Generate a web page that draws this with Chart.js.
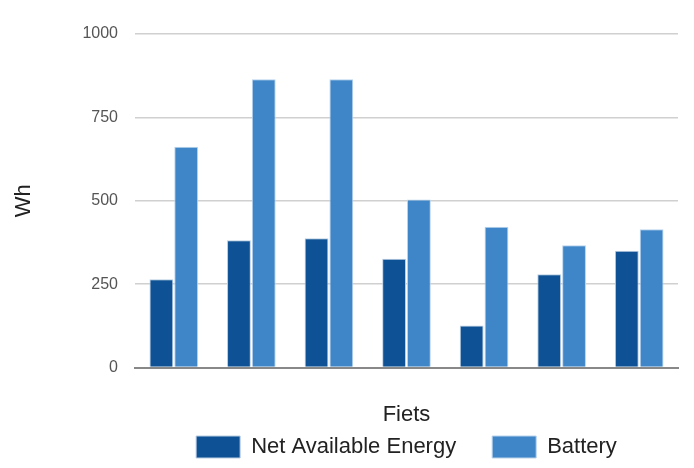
<!DOCTYPE html>
<html>
<head>
<meta charset="utf-8">
<script src="https://cdn.jsdelivr.net/npm/chart.js@4/dist/chart.umd.min.js"></script>
<style>
  html, body { margin: 0; padding: 0; background: #fff; }
  #wrap { width: 694px; height: 468px; }
</style>
</head>
<body>
<div id="wrap"><canvas id="grafico"></canvas></div>
<script>
var fietsen = ['1', '2', '3', '4', '5', '6', '7'];
var netAvailable = [265, 382, 388, 326, 126, 280, 350];
var battery = [662, 864, 864, 504, 422, 367, 415];
var yTicks = [0, 250, 500, 750, 1000];

Chart.defaults.font.family = '"Liberation Sans", Arial, sans-serif';
Chart.defaults.color = '#444';

// legend padding 36 gives the gap between items, but also a lot of room
// above them: shrink the box and draw it a bit higher
var legendGap = {
    id: 'legendGap',
    beforeInit: function (chart) {
        var legend = chart.legend;
        var fit = legend.fit;
        var draw = legend.draw;
        legend.fit = function () {
            fit.call(this);
            this.height -= 30;
        };
        legend.draw = function () {
            this.top -= 30;
            draw.call(this);
            this.top += 30;
        };
    }
};

var ctx = document.getElementById('grafico').getContext('2d');
new Chart(ctx, {
    type: 'bar',
    data: {
        labels: fietsen,
        datasets: [{
            label: 'Net Available Energy',
            data: netAvailable,
            backgroundColor: '#0e5295',
            borderColor: '#b9cde3',
            borderWidth: 1
        }, {
            label: 'Battery',
            data: battery,
            backgroundColor: '#3f86c8',
            borderColor: '#b9d3ec',
            borderWidth: 1
        }]
    },
    plugins: [legendGap],
    options: {
        responsive: true,
        maintainAspectRatio: false,
        animation: false,
        layout: { padding: { top: 34, right: 16, left: 11, bottom: 0 } },
        datasets: {
            bar: { categoryPercentage: 0.64, barPercentage: 0.96 }
        },
        scales: {
            x: {
                ticks: { display: false },
                grid: { display: false, drawTicks: false },
                border: { color: '#888', width: 2 },
                title: {
                    display: true,
                    text: 'Fiets',
                    color: '#222',
                    font: { size: 22 },
                    padding: { top: 34, bottom: 2 }
                }
            },
            y: {
                min: 0,
                max: 1000,
                afterBuildTicks: function (axis) {
                    axis.ticks = yTicks.map(function (v) { return { value: v }; });
                },
                ticks: {
                    font: { size: 16 },
                    color: '#555',
                    padding: 17,
                    callback: function (v) { return String(v); }
                },
                grid: { color: '#d0d0d0', lineWidth: 1.5, drawTicks: false },
                border: { display: false },
                title: {
                    display: true,
                    text: 'Wh',
                    color: '#222',
                    font: { size: 22 },
                    padding: { top: 0, bottom: 28 }
                }
            }
        },
        plugins: {
            legend: {
                position: 'bottom',
                fullSize: false, // centre under the plot area, not the canvas
                labels: {
                    boxWidth: 44,
                    boxHeight: 22,
                    padding: 36,
                    color: '#222',
                    font: { size: 22 }
                }
            },
            tooltip: { enabled: false }
        }
    }
});
</script>
</body>
</html>
